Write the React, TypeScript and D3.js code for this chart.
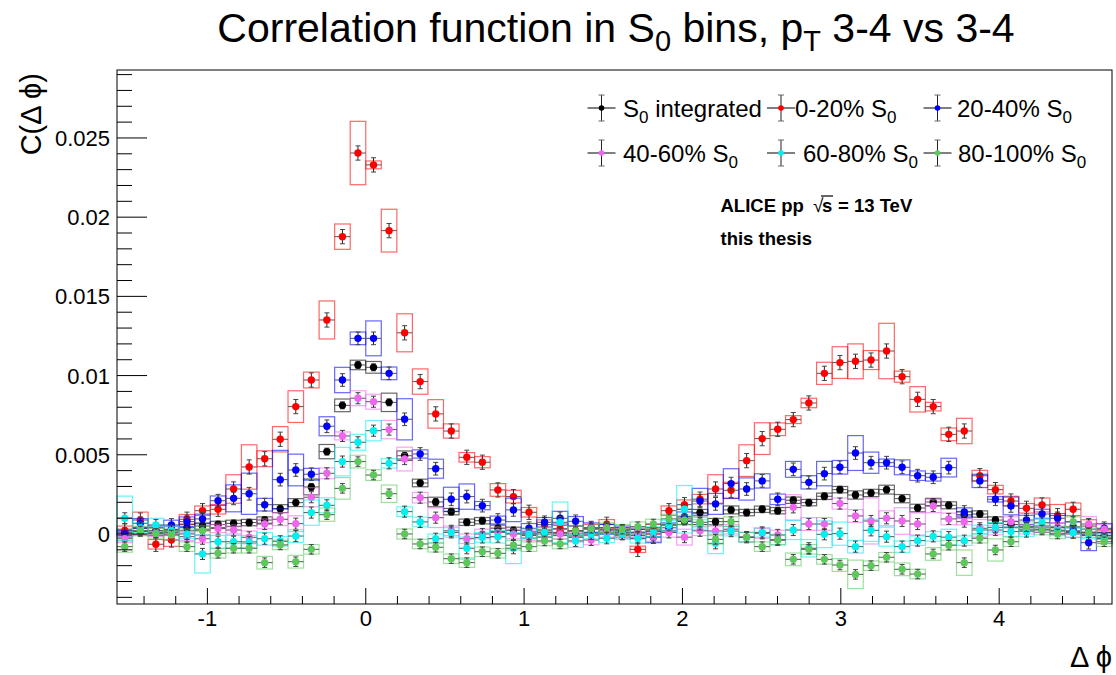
import React from 'react';
import * as d3 from 'd3';

const W = 1116;
const H = 675;
const FRAME = { left: 117, right: 1112, top: 70, bottom: 604 };
const Y_DOMAIN = [-0.00442, 0.02929];
const NBINS = 64;
const X_MIN = -Math.PI / 2;
const X_MAX = 1.5 * Math.PI;

// C(dphi) values per bin (64 bins over [-pi/2, 3pi/2])
const integrated = [0.0001,0.00015,0.0002,0.0003,0.0004,0.0005,0.0006,0.00067,0.00072,0.00088,0.0016,0.00198,0.00297,0.0052,0.00812,0.01067,0.01052,0.00831,0.00494,0.00322,0.00202,0.00141,0.00074,0.00084,0.00036,0.00023,-0.00006,0.0,0.0001,0.0,0.0001,0.0002,0.0002,0.0001,0.0002,0.0004,0.0008,0.00135,0.00078,0.00152,0.00135,0.00156,0.00147,0.00213,0.00198,0.00238,0.0028,0.00246,0.00259,0.0028,0.00223,0.00164,0.00202,0.00181,0.00122,0.00126,0.00088,0.0006,0.0004,0.0003,0.0002,0.0002,0.0001,-0.0001];
const s0_0_20 = [0.0002,0.00088,-0.00065,-0.00038,0.00093,0.00147,0.00156,0.00284,0.00423,0.00475,0.00598,0.00804,0.00972,0.01351,0.01877,0.02405,0.0233,0.01915,0.0127,0.00962,0.00758,0.0065,0.00484,0.00453,0.00278,0.00236,0.00137,0.00059,0.00034,0.0002,0.0003,0.00061,0.0001,-0.00097,0.0003,0.00147,0.00185,0.0022,0.00284,0.00276,0.00463,0.00602,0.00661,0.00722,0.00827,0.01014,0.01082,0.0109,0.01098,0.01155,0.00993,0.0085,0.00804,0.00629,0.0065,0.00368,0.0028,0.00208,0.00162,0.00183,0.00116,0.00156,0.0005,-0.0002];
const s0_20_40 = [0.0,0.00067,0.0002,0.00057,0.00078,0.00095,0.0021,0.00225,0.00254,0.00185,0.00343,0.00404,0.00377,0.0068,0.00972,0.01235,0.01235,0.01014,0.00724,0.00505,0.00412,0.00219,0.00236,0.00179,0.00088,0.00152,0.00036,0.00074,0.00099,0.0008,0.0004,0.0003,0.0002,0.0,-0.0002,0.0004,0.00109,0.00208,0.0019,0.00318,0.00284,0.00335,0.00219,0.00408,0.00326,0.00381,0.00421,0.00511,0.0045,0.0045,0.00421,0.00368,0.00358,0.00419,0.00139,0.00335,0.00219,0.00177,0.00088,0.00126,0.00099,0.00046,-0.00055,0.00036];
const s0_40_60 = [-0.0003,0.0002,0.0001,0.0002,-0.00017,-0.0003,0.00034,0.00025,-0.00021,0.00063,0.00093,0.00065,0.00232,0.00383,0.00619,0.00857,0.00835,0.00659,0.00473,0.00229,0.00103,0.0002,-0.0003,0.0,0.0001,0.0,-0.0001,-0.0002,0.0,-0.0002,-0.00038,0.0001,0.0,0.0001,-0.00017,0.0001,-0.0002,0.0002,0.00019,0.0003,-0.0002,0.00004,-0.00006,0.00168,0.00063,0.00063,0.00192,0.00114,0.00082,0.00099,0.00082,0.00063,0.00177,0.00095,0.00078,0.00036,0.00025,0.00078,0.0003,0.0004,0.00042,0.0001,0.00063,0.0003];
const s0_60_80 = [0.00099,0.0004,0.00057,0.0002,0.0,-0.00126,-0.00049,-0.00049,-0.0005,-0.0003,-0.00046,-0.00013,0.00135,0.00181,0.00457,0.00579,0.00652,0.00446,0.00141,0.00076,-0.0003,0.0001,-0.0009,-0.00022,-0.00017,-0.0009,0.0,0.0001,0.00074,-0.00044,0.0,-0.00027,-0.00002,-0.00027,0.00015,0.00055,0.00156,0.0006,-0.00059,0.00018,-0.0002,0.0001,-0.00038,0.00025,-0.0009,-0.00002,0.00002,-0.0008,0.00023,-0.00017,-0.0008,-0.00042,-0.00015,-0.0002,-0.00042,0.00025,0.00042,0.00015,0.00015,0.00071,0.0002,0.00008,0.0,-0.0003];
const s0_80_100 = [-0.0008,0.00019,0.00004,-0.00006,-0.0008,0.0002,-0.00122,-0.0009,-0.0009,-0.00181,-0.00069,-0.00175,-0.00097,0.00122,0.00288,0.00457,0.00372,0.00254,0.0,-0.00063,-0.00084,-0.00156,-0.00181,-0.00112,-0.00122,-0.00071,-0.0008,-0.00044,-0.00063,0.00019,0.00036,0.0004,0.0003,0.00046,0.00063,0.00095,0.00088,0.00074,-0.00034,0.00078,-0.00021,-0.0008,-0.00038,-0.0016,-0.00097,-0.0016,-0.00196,-0.00255,-0.002,-0.00147,-0.00223,-0.00253,-0.00126,-0.00071,-0.00181,-0.00027,-0.00101,-0.00049,0.00046,0.00025,0.0,0.00078,0.00008,-0.00049];

// systematic uncertainties (half heights of the boxes)
const sysIntegrated = [0.0002,0.0002,0.0002,0.0002,0.0002,0.0002,0.0002,0.0002,0.0002,0.0002,0.00025,0.00025,0.0005,0.00045,0.0004,0.0003,0.00037,0.00058,0.0003,0.00024,0.0003,0.0002,0.0002,0.0002,0.0002,0.0002,0.0002,0.0002,0.0002,0.0002,0.0002,0.0002,0.0002,0.0002,0.0002,0.0002,0.0002,0.0002,0.0002,0.00025,0.0002,0.0002,0.0002,0.0002,0.0002,0.0002,0.0002,0.00026,0.00023,0.00028,0.00026,0.00024,0.00023,0.00022,0.0002,0.0002,0.0002,0.0002,0.0002,0.0002,0.0002,0.0002,0.0002,0.0002];
const sys0_20 = [0.0003,0.0005,0.0003,0.0004,0.0003,0.0003,0.0003,0.0009,0.0014,0.0005,0.0008,0.001,0.0005,0.0012,0.0008,0.002,0.00025,0.00135,0.0012,0.0008,0.0009,0.00045,0.0003,0.00035,0.0004,0.0004,0.0003,0.0003,0.0003,0.0003,0.0003,0.0003,0.0003,0.0002,0.0003,0.0003,0.0003,0.0003,0.0009,0.0005,0.001,0.001,0.0004,0.00025,0.0003,0.0007,0.001,0.0011,0.0006,0.00175,0.00035,0.0008,0.00027,0.0004,0.0008,0.00034,0.00027,0.0003,0.0003,0.00044,0.0007,0.0004,0.0004,0.0004];
const sys20_40 = [0.0002,0.0003,0.0003,0.0003,0.0003,0.0003,0.0003,0.00085,0.0013,0.0004,0.00185,0.001,0.00037,0.0006,0.0008,0.0004,0.0011,0.0004,0.0013,0.00026,0.0006,0.00076,0.0008,0.00026,0.00025,0.00074,0.0003,0.0003,0.00044,0.0003,0.0003,0.0003,0.0003,0.0003,0.00035,0.0003,0.0003,0.0008,0.00066,0.00094,0.0007,0.00045,0.00033,0.0005,0.00042,0.00077,0.00043,0.0011,0.00067,0.00023,0.00047,0.0003,0.00024,0.00059,0.00026,0.00042,0.00017,0.00056,0.0003,0.0003,0.0003,0.0003,0.0005,0.0003];
const sys40_60 = [0.00025,0.00025,0.00025,0.00025,0.00025,0.00025,0.00025,0.00025,0.0004,0.0003,0.0004,0.0005,0.0006,0.00034,0.00025,0.00047,0.00047,0.00058,0.00075,0.00033,0.00062,0.0003,0.0003,0.0003,0.0003,0.0003,0.0003,0.0003,0.0003,0.0003,0.0003,0.0003,0.0003,0.0003,0.0003,0.0003,0.0005,0.0003,0.0003,0.0003,0.0003,0.0003,0.0003,0.0008,0.0004,0.0004,0.00035,0.0004,0.00145,0.00047,0.00084,0.0007,0.00042,0.00037,0.0002,0.00055,0.0003,0.0003,0.0003,0.0003,0.0003,0.0003,0.00047,0.0003];
const sys60_80 = [0.0014,0.0003,0.00042,0.0003,0.0003,0.0012,0.0004,0.0004,0.0004,0.0004,0.0003,0.0004,0.0008,0.00047,0.0009,0.0005,0.00064,0.0003,0.0003,0.0003,0.0003,0.0003,0.0007,0.0003,0.0004,0.00097,0.0003,0.0003,0.00128,0.0004,0.0003,0.00027,0.0003,0.0003,0.0003,0.0003,0.0015,0.0003,0.00065,0.0003,0.0003,0.0003,0.0003,0.0006,0.00055,0.00084,0.00073,0.0004,0.0007,0.0006,0.00036,0.0003,0.0003,0.0005,0.0003,0.0003,0.0003,0.0003,0.0003,0.0003,0.0003,0.0003,0.0003,0.0003];
const sys80_100 = [0.00035,0.0003,0.0003,0.0003,0.0003,0.0003,0.0003,0.0003,0.0003,0.0004,0.0003,0.0004,0.0003,0.00042,0.00068,0.0004,0.00034,0.00055,0.00032,0.0003,0.0003,0.0003,0.0003,0.0003,0.0003,0.0003,0.0003,0.0003,0.0003,0.0003,0.0003,0.0003,0.0003,0.0003,0.0003,0.0003,0.0003,0.0003,0.0003,0.0003,0.0003,0.0003,0.0003,0.0004,0.0003,0.0003,0.0004,0.0009,0.0003,0.0003,0.0004,0.0003,0.0004,0.0003,0.0008,0.0003,0.0007,0.0003,0.0003,0.0003,0.0003,0.0003,0.0003,0.0003];

// statistical uncertainty (half length of the error bars) per series
const statErrors = [0.00022, 0.00045, 0.0004, 0.00035, 0.00035, 0.0003];

const seriesNames = ['integrated', '0-20%', '20-40%', '40-60%', '60-80%', '80-100%'];
const seriesColors = ['#000000', '#ff0000', '#0000ff', '#ee66ee', '#00f0f0', '#5dc95d'];
const seriesValues = [integrated, s0_0_20, s0_20_40, s0_40_60, s0_60_80, s0_80_100];
const seriesSys = [sysIntegrated, sys0_20, sys20_40, sys40_60, sys60_80, sys80_100];

const xMajorTicks = [-1, 0, 1, 2, 3, 4];
const yMajorTicks = [0, 0.005, 0.01, 0.015, 0.02, 0.025];
const yTickLabels = ['0', '0.005', '0.01', '0.015', '0.02', '0.025'];

const FONT = "'Liberation Sans', Arial, Helvetica, sans-serif";
const PHI = '\u03D5';

export default function App() {
  const x = d3.scaleLinear().domain([X_MIN, X_MAX]).range([FRAME.left, FRAME.right]);
  const y = d3.scaleLinear().domain(Y_DOMAIN).range([FRAME.bottom, FRAME.top]);
  const binW = (X_MAX - X_MIN) / NBINS;
  const centers = d3.range(NBINS).map((i) => X_MIN + (i + 0.5) * binW);
  const bwPx = x(X_MIN + binW) - x(X_MIN);

  const xMinor = d3.range(-7, 24).map((k) => k * 0.2).filter((v) => v > X_MIN && v < X_MAX);
  const yMinor = d3.range(-4, 30).map((k) => k * 0.001).filter((v) => v > Y_DOMAIN[0] && v < Y_DOMAIN[1]);

  const legendItems = [
    { i: 0, mx: 601.5, my: 108, tx: 623, ty: 117, label: '', suffix: ' integrated' },
    { i: 1, mx: 781, my: 108, tx: 795, ty: 117, label: '0-20% ', suffix: '' },
    { i: 2, mx: 937.5, my: 108, tx: 957, ty: 117, label: '20-40% ', suffix: '' },
    { i: 3, mx: 601.5, my: 153, tx: 623, ty: 162, label: '40-60% ', suffix: '' },
    { i: 4, mx: 781, my: 153, tx: 803, ty: 162, label: '60-80% ', suffix: '' },
    { i: 5, mx: 937.5, my: 153, tx: 958, ty: 162, label: '80-100% ', suffix: '' },
  ];

  return (
    <svg width={W} height={H} style={{ position: 'absolute', left: 0, top: 0, background: '#fff' }}>
      <rect x={0} y={0} width={W} height={H} fill="#fff" />
      {/* title */}
      <text x={616} y={42} textAnchor="middle" fontSize={41} fontFamily={FONT} fill="#000">
        Correlation function in S<tspan fontSize={29} dy={9}>0</tspan>
        <tspan dy={-9}> bins, p</tspan>
        <tspan fontSize={29} dy={9}>T</tspan>
        <tspan dy={-9}> 3-4 vs 3-4</tspan>
      </text>

      {/* data */}
      <g>
        {seriesValues.map((vals, si) => (
          <g key={'s' + si}>
            {vals.map((v, i) => {
              const cx = x(centers[i]);
              const sy = seriesSys[si][i];
              return (
                <rect
                  key={'b' + i}
                  x={cx - bwPx / 2}
                  y={y(v + sy)}
                  width={bwPx}
                  height={y(v - sy) - y(v + sy)}
                  fill="none"
                  stroke={seriesColors[si]}
                  strokeOpacity={0.6}
                  strokeWidth={1.2}
                />
              );
            })}
            {vals.map((v, i) => {
              const cx = x(centers[i]);
              const cy = y(v);
              const e = statErrors[si];
              return (
                <g key={'p' + i}>
                  <line x1={cx - bwPx / 2} x2={cx + bwPx / 2} y1={cy} y2={cy} stroke="#555" strokeWidth={1} />
                  <line x1={cx} x2={cx} y1={y(v + e)} y2={y(v - e)} stroke="#222" strokeWidth={1} />
                  <line x1={cx - 2.5} x2={cx + 2.5} y1={y(v + e)} y2={y(v + e)} stroke="#444" strokeWidth={1} />
                  <line x1={cx - 2.5} x2={cx + 2.5} y1={y(v - e)} y2={y(v - e)} stroke="#444" strokeWidth={1} />
                  <circle cx={cx} cy={cy} r={3.7} fill={seriesColors[si]} />
                </g>
              );
            })}
          </g>
        ))}
      </g>

      {/* frame */}
      <rect x={FRAME.left} y={FRAME.top} width={FRAME.right - FRAME.left} height={FRAME.bottom - FRAME.top} fill="none" stroke="#000" strokeWidth={1} />

      {/* x axis ticks */}
      {xMinor.map((v, i) => {
        const major = xMajorTicks.some((m) => Math.abs(m - v) < 1e-6);
        return (
          <line key={'xt' + i} x1={x(v)} x2={x(v)} y1={FRAME.bottom} y2={FRAME.bottom - (major ? 16 : 8)} stroke="#000" strokeWidth={1} />
        );
      })}
      {xMajorTicks.map((v) => (
        <text key={'xl' + v} x={x(v)} y={626} textAnchor="middle" fontSize={22} fontFamily={FONT} fill="#000">
          {v < 0 ? '-' + Math.abs(v) : String(v)}
        </text>
      ))}

      {/* y axis ticks */}
      {yMinor.map((v, i) => {
        const major = yMajorTicks.some((m) => Math.abs(m - v) < 1e-9);
        return (
          <line key={'yt' + i} x1={FRAME.left} x2={FRAME.left + (major ? 30 : 15)} y1={y(v)} y2={y(v)} stroke="#000" strokeWidth={1} />
        );
      })}
      {yMajorTicks.map((v, i) => (
        <text key={'yl' + i} x={110} y={y(v) + 8} textAnchor="end" fontSize={22} fontFamily={FONT} fill="#000">
          {yTickLabels[i]}
        </text>
      ))}

      {/* axis titles */}
      <text x={1112} y={667} textAnchor="end" fontSize={29} fontFamily={FONT} fill="#000">
        {'\u0394 ' + PHI}
      </text>
      <text transform="translate(41,73) rotate(-90)" textAnchor="end" fontSize={29} fontFamily={FONT} fill="#000">
        {'C(\u0394 ' + PHI + ')'}
      </text>

      {/* legend */}
      {legendItems.map((it) => (
        <g key={'lg' + it.i}>
          <line x1={it.mx - 14} x2={it.mx + 14} y1={it.my} y2={it.my} stroke="#000" strokeWidth={1} />
          <line x1={it.mx} x2={it.mx} y1={it.my - 13} y2={it.my + 13} stroke="#222" strokeWidth={1} />
          <line x1={it.mx - 3} x2={it.mx + 3} y1={it.my - 13} y2={it.my - 13} stroke="#666" strokeWidth={1} />
          <line x1={it.mx - 3} x2={it.mx + 3} y1={it.my + 13} y2={it.my + 13} stroke="#666" strokeWidth={1} />
          <circle cx={it.mx} cy={it.my} r={2.8} fill={seriesColors[it.i]} />
          <text x={it.tx} y={it.ty} fontSize={24} fontFamily={FONT} fill="#000">
            {it.label}S<tspan fontSize={17} dy={6}>0</tspan>
            {it.suffix ? <tspan dy={-6}>{it.suffix}</tspan> : null}
          </text>
        </g>
      ))}

      {/* ALICE label */}
      <text x={720.5} y={212} fontSize={18.5} fontWeight="bold" fontFamily={FONT} fill="#000">
        ALICE pp
      </text>
      <text x={813} y={212} fontSize={19} fontFamily={FONT} fill="#000">√</text>
      <line x1={821} x2={833} y1={196} y2={196} stroke="#000" strokeWidth={1.2} />
      <text x={822} y={212} fontSize={18.5} fontWeight="bold" fontFamily={FONT} fill="#000">s</text>
      <text x={838} y={212} fontSize={18.5} fontWeight="bold" fontFamily={FONT} fill="#000">
        = 13 TeV
      </text>
      <text x={720.5} y={245} fontSize={18.5} fontWeight="bold" fontFamily={FONT} fill="#000">
        this thesis
      </text>
    </svg>
  );
}
